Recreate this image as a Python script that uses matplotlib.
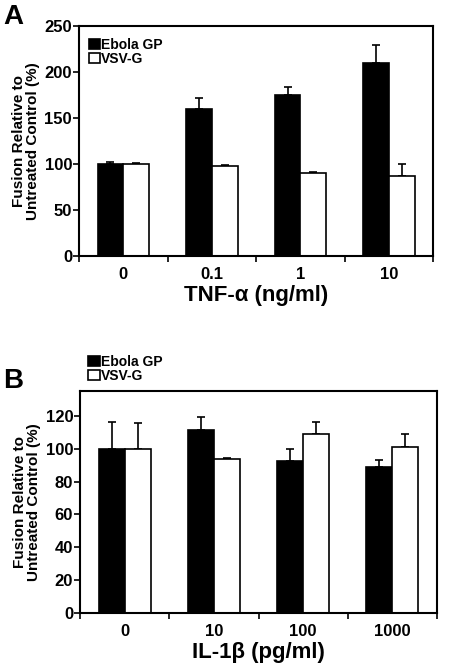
import numpy as np
import matplotlib
matplotlib.use("Agg")
import matplotlib.pyplot as plt

plt.rcParams['font.family'] = ['Liberation Sans', 'DejaVu Sans']
plt.rcParams['font.weight'] = 'bold'

# painel A - TNF-alfa
tnf_doses = ['0', '0.1', '1', '10']
tnf_ebola = [100, 159, 175, 210]
tnf_ebola_err = [2.5, 12, 8, 19.5]
tnf_vsv = [100, 98, 90, 87]
tnf_vsv_err = [1, 1, 1, 12.5]

# painel B - IL-1beta
il_doses = ['0', '10', '100', '1000']
il_ebola = [100, 111.5, 92.5, 89]
il_ebola_err = [16.5, 8, 7.5, 4]
il_vsv = [100, 94, 109, 101]
il_vsv_err = [15.5, 0.5, 7.5, 8]

fig = plt.figure(figsize=(4.5, 6.7), dpi=100)
axA = fig.add_axes([0.1756, 0.618, 0.787, 0.3437])
axB = fig.add_axes([0.178, 0.085, 0.793, 0.331])


def draw_panel(ax, doses, ebola, ebola_err, vsv, vsv_err, ylim, yticks, xlabel):
    x = np.arange(len(doses))
    w = 0.29
    eb = ax.bar(x - w, ebola, w, align='edge', color='black', edgecolor='black',
                linewidth=1.2, label='Ebola GP', zorder=2)
    ax.errorbar(x - w / 2, ebola, yerr=[np.zeros(len(ebola)), ebola_err], fmt='none',
                ecolor='black', elinewidth=1.2, capsize=3, capthick=1.2, zorder=1)
    vs = ax.bar(x, vsv, w, align='edge', color='white', edgecolor='black',
                linewidth=1.2, label='VSV-G', zorder=2)
    ax.errorbar(x + w / 2, vsv, yerr=[np.zeros(len(vsv)), vsv_err], fmt='none',
                ecolor='black', elinewidth=1.2, capsize=3, capthick=1.2, zorder=1)
    ax.set_xlim(-0.5, len(doses) - 0.5)
    ax.set_ylim(*ylim)
    ax.set_yticks(yticks)
    ax.set_xticks(x)
    ax.set_xticklabels(doses, fontsize=12, fontweight='bold')
    ax.tick_params(axis='x', which='major', length=0, pad=8)
    ax.set_xticks(np.arange(-0.5, len(doses)), minor=True)
    ax.tick_params(axis='x', which='minor', length=4, width=1.2, direction='out')
    ax.tick_params(axis='y', length=4, width=1.2, direction='out', labelsize=12, pad=1)
    for lab in ax.get_yticklabels():
        lab.set_fontweight('bold')
    for sp in ax.spines.values():
        sp.set_linewidth(1.5)
    ax.set_ylabel('Fusion Relative to\nUntreated Control (%)', fontsize=11,
                  fontweight='bold', labelpad=3, linespacing=1.0)
    ax.set_xlabel(xlabel, fontsize=16, fontweight='bold', labelpad=2)
    return eb, vs


draw_panel(axA, tnf_doses, tnf_ebola, tnf_ebola_err, tnf_vsv, tnf_vsv_err,
           (0, 250), [0, 50, 100, 150, 200, 250], 'TNF-\u03b1 (ng/ml)')
axA.legend(loc='upper left', bbox_to_anchor=(0.0, 0.99), frameon=False,
           prop={'size': 10, 'weight': 'bold'}, handlelength=0.8, handleheight=0.8,
           handletextpad=0.1, labelspacing=0.0, borderaxespad=0.3)

draw_panel(axB, il_doses, il_ebola, il_ebola_err, il_vsv, il_vsv_err,
           (0, 135), [0, 20, 40, 60, 80, 100, 120], 'IL-1\u03b2 (pg/ml)')
axB.legend(loc='lower left', bbox_to_anchor=(0.0, 1.0), frameon=False,
           prop={'size': 10, 'weight': 'bold'}, handlelength=0.8, handleheight=0.8,
           handletextpad=0.1, labelspacing=0.0, borderaxespad=0.2)

fig.text(0.008, 0.975, 'A', fontsize=20, fontweight='bold', va='center', ha='left')
fig.text(0.008, 0.432, 'B', fontsize=20, fontweight='bold', va='center', ha='left')

fig.savefig('out.png', dpi=100)
